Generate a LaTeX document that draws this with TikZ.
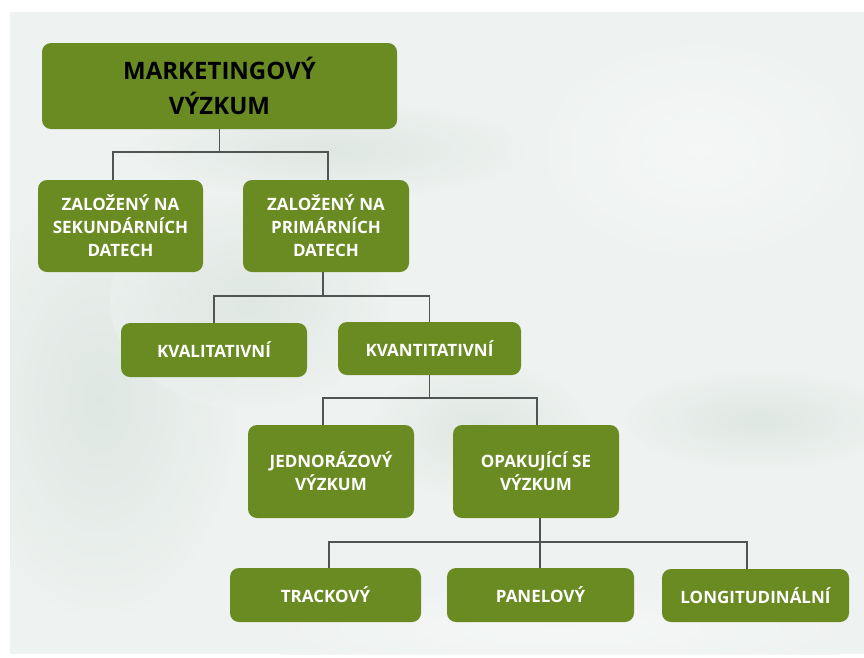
\documentclass[tikz,border=0pt]{standalone}
\usepackage{fontspec}
\setmainfont{Open Sans}
\definecolor{boxgreen}{RGB}{105,139,34}
\definecolor{linegray}{RGB}{80,84,82}
\definecolor{bgbase}{RGB}{238,242,240}
\definecolor{bgdark}{RGB}{210,223,216}
\definecolor{bglight}{RGB}{248,250,249}
\begin{document}
\begin{tikzpicture}[x=1pt,y=-1pt,
  box/.style={fill=boxgreen, rounded corners=9pt, text=white, align=center, inner sep=0pt,
    font=\bfseries\fontsize{17}{23}\selectfont},
  conn/.style={draw=linegray, line width=1.1pt},
  blob/.style={inner color=bgdark, outer color=bgbase, opacity=0.55},
  lblob/.style={inner color=bglight, outer color=bgbase, opacity=0.7}]
\useasboundingbox (0,0) rectangle (864,657);
\fill[white] (0,0) rectangle (864,657);
\fill[bgbase] (10,12) rectangle (864,654);
\begin{scope}
\clip (10,12) rectangle (864,654);
\shade[blob] (100,400) ellipse (140pt and 220pt);
\shade[blob] (250,300) ellipse (140pt and 110pt);
\shade[blob] (330,150) ellipse (200pt and 50pt);
\shade[blob] (760,420) ellipse (140pt and 50pt);
\shade[blob] (480,430) ellipse (110pt and 70pt);
\shade[lblob] (700,150) ellipse (190pt and 130pt);
\shade[lblob] (560,630) ellipse (320pt and 50pt);
\end{scope}

\node[box, minimum width=355pt, minimum height=86pt, text=black,
  font=\bfseries\fontsize{24}{35}\selectfont] (top) at (219.5,86) {MARKETINGOVÝ\\VÝZKUM};

\node[box, minimum width=165pt, minimum height=92pt] (sek) at (120.5,226) {ZALOŽENÝ NA\\SEKUNDÁRNÍCH\\DATECH};
\node[box, minimum width=166pt, minimum height=92pt] (prim) at (326,226) {ZALOŽENÝ NA\\PRIMÁRNÍCH\\DATECH};

\node[box, minimum width=186pt, minimum height=54pt] (kval) at (214,350) {KVALITATIVNÍ};
\node[box, minimum width=183pt, minimum height=53pt] (kvant) at (429.5,348.5) {KVANTITATIVNÍ};

\node[box, minimum width=166pt, minimum height=93pt] (jedn) at (331,471.5) {JEDNORÁZOVÝ\\VÝZKUM};
\node[box, minimum width=166pt, minimum height=93pt] (opak) at (536,471.5) {OPAKUJÍCÍ SE\\VÝZKUM};

\node[box, minimum width=191pt, minimum height=54pt] (track) at (325.5,595) {TRACKOVÝ};
\node[box, minimum width=187pt, minimum height=54pt] (panel) at (540.5,595) {PANELOVÝ};
\node[box, minimum width=187pt, minimum height=53pt] (long) at (755.5,595.5) {LONGITUDINÁLNÍ};

% bus 1
\coordinate (b1l) at (113,152);
\coordinate (b1r) at (328,152);
\draw[conn] (top.south) -- (top.south |- b1l);
\draw[conn] (sek.north -| b1l) -- (b1l) -- (b1r) -- (prim.north -| b1r);
% bus 2
\coordinate (b2l) at (214,296);
\coordinate (b2r) at (429.5,296);
\coordinate (b2m) at (323,296);
\draw[conn] (prim.south -| b2m) -- (b2m);
\draw[conn] (kval.north) -- (b2l) -- (b2r) -- (kvant.north);
% bus 3
\coordinate (b3l) at (323,398);
\coordinate (b3r) at (537,398);
\draw[conn] (kvant.south) -- (kvant.south |- b3l);
\draw[conn] (jedn.north -| b3l) -- (b3l) -- (b3r) -- (opak.north -| b3r);
% bus 4
\coordinate (b4l) at (329,542);
\coordinate (b4m) at (540,542);
\coordinate (b4r) at (747,542);
\draw[conn] (opak.south -| b4m) -- (b4m);
\draw[conn] (track.north -| b4l) -- (b4l) -- (b4r) -- (long.north -| b4r);
\draw[conn] (b4m) -- (panel.north -| b4m);
\end{tikzpicture}
\end{document}
